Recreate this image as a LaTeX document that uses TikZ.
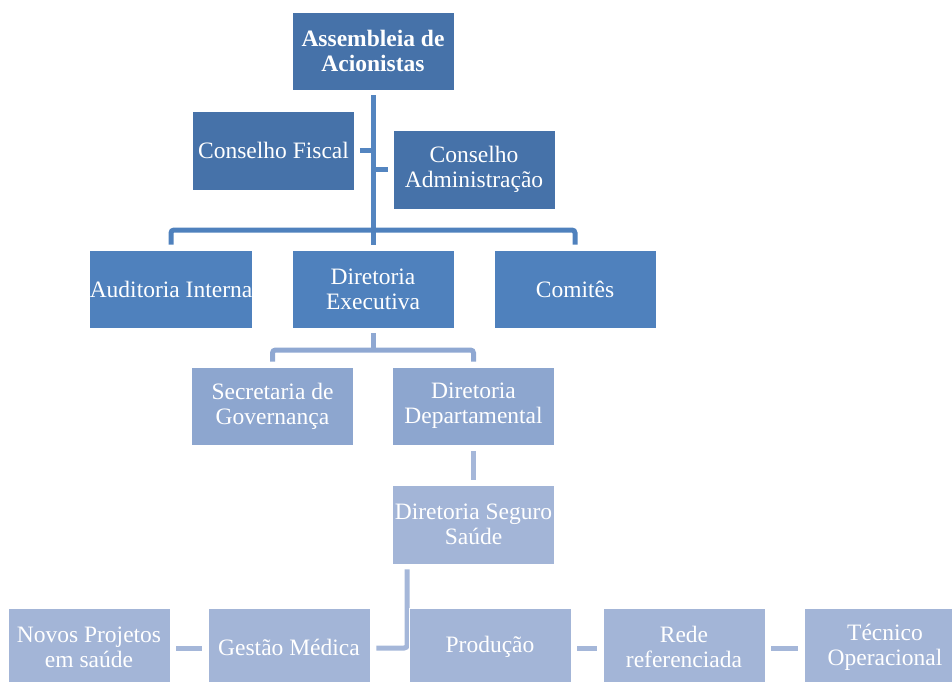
\documentclass[tikz,border=0pt]{standalone}
\usepackage{fontspec}
\setmainfont{Liberation Serif}
\usetikzlibrary{calc,backgrounds}
\definecolor{lvone}{RGB}{70,114,169}
\definecolor{lvtwo}{RGB}{79,129,189}
\definecolor{lvthree}{RGB}{141,166,207}
\definecolor{lvfour}{RGB}{163,181,215}
\definecolor{lnone}{RGB}{84,133,192}
\definecolor{lnthree}{RGB}{143,168,210}
\definecolor{lnfour}{RGB}{165,183,217}
\begin{document}
\begin{tikzpicture}[x=1pt,y=-1pt,
  box/.style={draw=white, line width=0.6pt, text=white, align=center,
    inner sep=0pt, minimum width=162pt, minimum height=78pt,
    font=\fontsize{23.5}{25}\selectfont},
  lvA/.style={box, fill=lvone},
  lvB/.style={box, fill=lvtwo},
  lvC/.style={box, fill=lvthree},
  lvD/.style={box, fill=lvfour},
  link/.style={line width=5pt, rounded corners=3pt}]
\clip (0,0) rectangle (952,681);

% governance boxes
\node[lvA, font=\fontsize{23.5}{25}\selectfont\bfseries] (asm) at (373,51) {Assembleia de\\Acionistas};
\node[lvA, minimum height=79pt] (cf) at (273.5,150.5) {Conselho Fiscal};
\node[lvA, minimum height=79pt] (ca) at (474,169.5) {Conselho\\Administração};

% executive level
\node[lvB] (aud) at (171,289) {Auditoria Interna};
\node[lvB] (dex) at (373,289) {Diretoria\\Executiva};
\node[lvB] (com) at (575,289) {Comitês};

% departmental level
\node[lvC] (sec) at (272.5,406) {Secretaria de\\Governança};
\node[lvC] (dep) at (473.5,406) {Diretoria\\Departamental};
\node[lvD, minimum height=79pt] (seg) at (473.5,524.5) {Diretoria Seguro\\Saúde};

% operational areas
\node[lvD] (nov) at (89,647) {Novos Projetos\\em saúde};
\node[lvD] (ges) at (289,647) {Gestão Médica};
\node[lvD] (pro) at (490,647) {Produção};
\node[lvD] (rede) at (684,647) {Rede\\referenciada};
\node[lvD] (tec) at (885,647) {Técnico\\Operacional};

\coordinate (hub) at (373,230);
\coordinate (hubB) at (373,350);

\begin{pgfonlayer}{background}
  \draw[link, lnone] ($(asm.south)+(0,5)$) -- ($(dex.north)+(0,-5)$);
  \draw[link, lnone] ($(cf.east)+(5,0)$) -- (cf.east -| asm.south);
  \draw[link, lnone] ($(ca.west)+(-5,0)$) -- (ca.west -| asm.south);
  \draw[link, lvtwo] ($(aud.north)+(0,-5)$) |- (hub) -| ($(com.north)+(0,-5)$);

  \draw[link, lnthree] ($(dex.south)+(0,5)$) -- (hubB);
  \draw[link, lnthree] ($(sec.north)+(0,-5)$) |- (hubB) -| ($(dep.north)+(0,-5)$);
  \draw[link, lnfour] ($(dep.south)+(0,6)$) -- ($(seg.north)+(0,-5)$);

  \draw[link, lnfour] ($(seg.south west)+(15,5)$) |- ($(ges.east)+(6,1)$);
  \draw[link, lnfour] ($(nov.east)+(6,1)$) -- ($(ges.west)+(-6,1)$);
  \draw[link, lnfour] ($(pro.east)+(6,1)$) -- ($(rede.west)+(-6,1)$);
  \draw[link, lnfour] ($(rede.east)+(6,1)$) -- ($(tec.west)+(-6,1)$);
\end{pgfonlayer}
\end{tikzpicture}
\end{document}
